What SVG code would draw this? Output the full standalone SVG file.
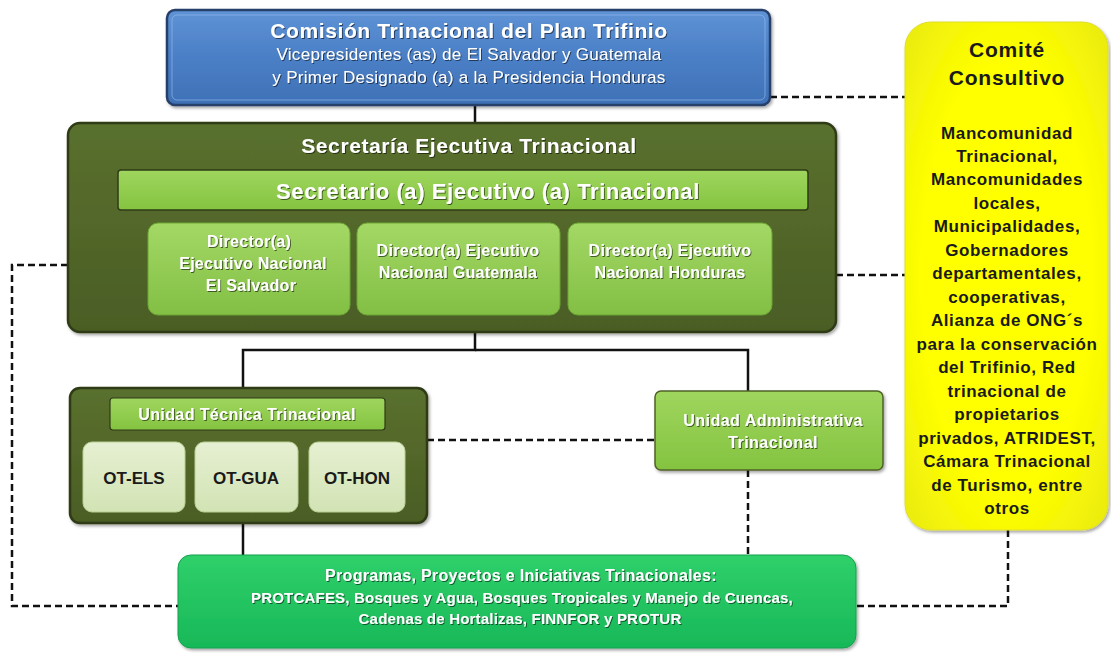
<svg xmlns="http://www.w3.org/2000/svg" width="1111" height="653" viewBox="0 0 1111 653">
<defs>
<linearGradient id="gBlue" x1="0" y1="0" x2="0" y2="1"><stop offset="0" stop-color="#5f93d6"/><stop offset="0.5" stop-color="#4a7fc6"/><stop offset="1" stop-color="#3f71b6"/></linearGradient>
<linearGradient id="gOlive" x1="0" y1="0" x2="0" y2="1"><stop offset="0" stop-color="#5a702e"/><stop offset="1" stop-color="#4a5d24"/></linearGradient>
<linearGradient id="gLight" x1="0" y1="0" x2="0" y2="1"><stop offset="0" stop-color="#9fd65e"/><stop offset="1" stop-color="#84c340"/></linearGradient>
<linearGradient id="gDir" x1="0" y1="0" x2="0" y2="1"><stop offset="0" stop-color="#a4d866"/><stop offset="1" stop-color="#82bf44"/></linearGradient>
<linearGradient id="gPale" x1="0" y1="0" x2="0" y2="1"><stop offset="0" stop-color="#e6f0d2"/><stop offset="1" stop-color="#d2e3b4"/></linearGradient>
<linearGradient id="gProg" x1="0" y1="0" x2="0" y2="1"><stop offset="0" stop-color="#2fd06a"/><stop offset="1" stop-color="#18b858"/></linearGradient>
<radialGradient id="gYellow" cx="0.5" cy="0.5" r="0.7"><stop offset="0.6" stop-color="#ffff00"/><stop offset="1" stop-color="#eaea10"/></radialGradient>
<filter id="ts" x="-10%" y="-10%" width="120%" height="130%"><feDropShadow dx="1" dy="1" stdDeviation="0.6" flood-color="#000" flood-opacity="0.55"/></filter>
<filter id="bs" x="-5%" y="-5%" width="110%" height="115%"><feDropShadow dx="1.5" dy="2" stdDeviation="1.5" flood-color="#000" flood-opacity="0.35"/></filter>
</defs>
<style>
.t{font-family:"Liberation Sans",Arial,sans-serif;text-anchor:middle}
.w{fill:#ffffff;filter:url(#ts)}
.b{font-weight:bold}
.dk{fill:#1a1a1a}
.solid{stroke:#111;stroke-width:2.5;fill:none}
.dash{stroke:#111;stroke-width:2.5;fill:none;stroke-dasharray:7,4}
</style>
<rect width="1111" height="653" fill="#ffffff"/>

<g id="connectors">
<line class="solid" x1="475" y1="105" x2="475" y2="124"/>
<polyline class="solid" points="475,332 475,350 243,350 243,390"/>
<polyline class="solid" points="475,350 748,350 748,392"/>
<line class="solid" x1="243" y1="523" x2="243" y2="556"/>
<line class="dash" x1="427" y1="440" x2="655" y2="440"/>
<line class="dash" x1="748" y1="470" x2="748" y2="556"/>
<polyline class="dash" points="68,265 12,265 12,606 178,606"/>
<line class="dash" x1="770" y1="97" x2="906" y2="97"/>
<line class="dash" x1="836" y1="275" x2="906" y2="275"/>
<polyline class="dash" points="1008,530 1008,606 856,606"/>
</g>

<g id="comision">
<rect x="167" y="10" width="603" height="95" rx="8" fill="url(#gBlue)" stroke="#27406b" stroke-width="2.5" filter="url(#bs)"/>
<rect x="172" y="15" width="593" height="85" rx="5" fill="none" stroke="#9cc0ee" stroke-width="1" opacity="0.6"/>
<text class="t w b" x="469" y="38" font-size="21" letter-spacing="0.6">Comisión  Trinacional del Plan Trifinio</text>
<text class="t w" x="469" y="60" font-size="17" letter-spacing="0.3">Vicepresidentes (as) de El Salvador y Guatemala</text>
<text class="t w" x="469" y="83" font-size="17" letter-spacing="0.3">y Primer Designado (a) a la Presidencia Honduras</text>
</g>

<g id="secretaria">
<rect x="68" y="123" width="768" height="209" rx="12" fill="url(#gOlive)" stroke="#2f3b17" stroke-width="2.5" filter="url(#bs)"/>
<text class="t w b" x="469" y="153" font-size="21" letter-spacing="0.6">Secretaría Ejecutiva Trinacional</text>
</g>

<g id="secretario">
<rect x="118" y="170" width="690" height="40" rx="3" fill="url(#gLight)" stroke="#2f3b17" stroke-width="1.5"/>
<text class="t w b" x="488" y="199" font-size="22" letter-spacing="0.6">Secretario (a) Ejecutivo (a) Trinacional</text>
</g>

<g id="dir-els">
<rect x="148" y="223" width="202" height="92" rx="10" fill="url(#gDir)" stroke="#6da535" stroke-width="1"/>
<text class="t w b" x="249" y="247" font-size="16" letter-spacing="0.3">Director(a)</text>
<text class="t w b" x="253" y="269" font-size="16" letter-spacing="0.3">Ejecutivo Nacional</text>
<text class="t w b" x="251" y="291" font-size="16" letter-spacing="0.3">El Salvador</text>
</g>
<g id="dir-gua">
<rect x="357" y="223" width="203" height="92" rx="10" fill="url(#gDir)" stroke="#6da535" stroke-width="1"/>
<text class="t w b" x="458" y="256" font-size="16" letter-spacing="0.3">Director(a) Ejecutivo</text>
<text class="t w b" x="458" y="278" font-size="16" letter-spacing="0.3">Nacional Guatemala</text>
</g>
<g id="dir-hon">
<rect x="568" y="223" width="204" height="92" rx="10" fill="url(#gDir)" stroke="#6da535" stroke-width="1"/>
<text class="t w b" x="670" y="256" font-size="16" letter-spacing="0.3">Director(a) Ejecutivo</text>
<text class="t w b" x="670" y="278" font-size="16" letter-spacing="0.3">Nacional Honduras</text>
</g>

<g id="unidad-tecnica">
<rect x="70" y="388" width="357" height="135" rx="10" fill="url(#gOlive)" stroke="#2f3b17" stroke-width="2.5" filter="url(#bs)"/>
<rect x="110" y="398" width="275" height="32" rx="3" fill="url(#gLight)" stroke="#2f3b17" stroke-width="1.2"/>
<text class="t w b" x="247" y="420" font-size="16" letter-spacing="0.4">Unidad Técnica Trinacional</text>
</g>
<g id="ot-els">
<rect x="83" y="442" width="102" height="70" rx="9" fill="url(#gPale)" stroke="#b9cf92" stroke-width="1"/>
<text class="t b dk" x="134" y="484" font-size="17">OT-ELS</text>
</g>
<g id="ot-gua">
<rect x="195" y="442" width="103" height="70" rx="9" fill="url(#gPale)" stroke="#b9cf92" stroke-width="1"/>
<text class="t b dk" x="246" y="484" font-size="17">OT-GUA</text>
</g>
<g id="ot-hon">
<rect x="309" y="442" width="96" height="70" rx="9" fill="url(#gPale)" stroke="#b9cf92" stroke-width="1"/>
<text class="t b dk" x="357" y="484" font-size="17">OT-HON</text>
</g>

<g id="unidad-admin">
<rect x="655" y="391" width="228" height="79" rx="6" fill="url(#gLight)" stroke="#4f6228" stroke-width="1.5" filter="url(#bs)"/>
<text class="t w b" x="773" y="426" font-size="16" letter-spacing="0.5">Unidad Administrativa</text>
<text class="t w b" x="773" y="448" font-size="16" letter-spacing="0.5">Trinacional</text>
</g>

<g id="programas">
<rect x="178" y="555" width="678" height="93" rx="13" fill="url(#gProg)" stroke="#15a050" stroke-width="1" filter="url(#bs)"/>
<text class="t w b" x="521" y="581" font-size="16" letter-spacing="0.3">Programas, Proyectos e Iniciativas Trinacionales:</text>
<text class="t w b" x="522" y="603" font-size="15" letter-spacing="0.2">PROTCAFES, Bosques y Agua, Bosques Tropicales y Manejo de Cuencas,</text>
<text class="t w b" x="520" y="624" font-size="15" letter-spacing="0.2">Cadenas de Hortalizas,  FINNFOR y PROTUR</text>
</g>

<g id="comite">
<rect x="905" y="22" width="203" height="508" rx="26" fill="url(#gYellow)" stroke="#dede30" stroke-width="1" filter="url(#bs)"/>
<g class="t b dk" font-size="21" letter-spacing="0.8">
<text x="1007" y="57">Comité</text>
<text x="1007" y="85">Consultivo</text>
</g>
<g class="t b dk" font-size="17" letter-spacing="0.6">
<text x="1007" y="139">Mancomunidad</text>
<text x="1007" y="162">Trinacional,</text>
<text x="1007" y="185">Mancomunidades</text>
<text x="1007" y="209">locales,</text>
<text x="1007" y="232">Municipalidades,</text>
<text x="1007" y="256">Gobernadores</text>
<text x="1007" y="279">departamentales,</text>
<text x="1007" y="303">cooperativas,</text>
<text x="1007" y="326">Alianza de ONG´s</text>
<text x="1007" y="350">para la conservación</text>
<text x="1007" y="373">del Trifinio, Red</text>
<text x="1007" y="397">trinacional de</text>
<text x="1007" y="420">propietarios</text>
<text x="1007" y="444">privados, ATRIDEST,</text>
<text x="1007" y="467">Cámara Trinacional</text>
<text x="1007" y="491">de Turismo, entre</text>
<text x="1007" y="514">otros</text>
</g>
</g>
</svg>
